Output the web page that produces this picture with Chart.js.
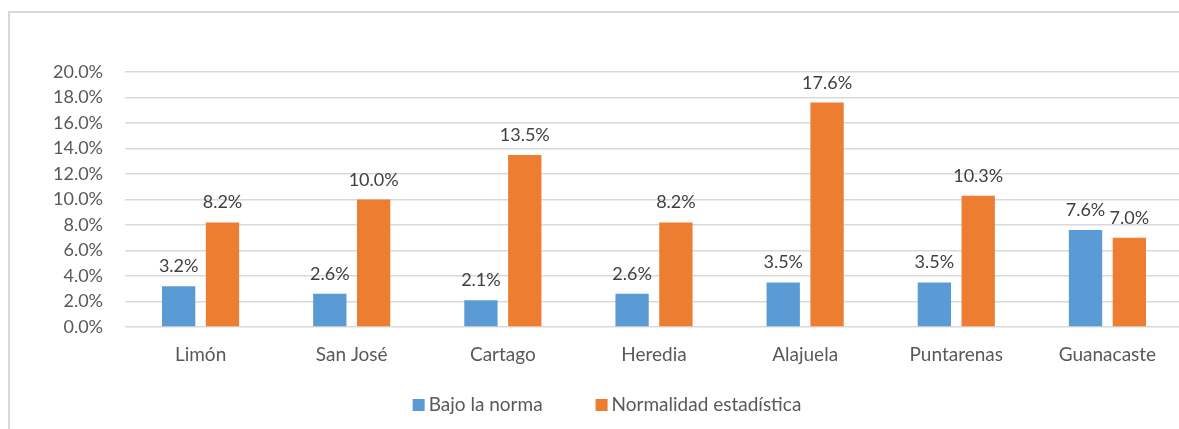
<!DOCTYPE html>
<html>
<head>
<meta charset="utf-8">
<script src="https://cdn.jsdelivr.net/npm/chart.js@4/dist/chart.umd.min.js"></script>
<style>
  html, body { margin: 0; padding: 0; background: #fff; overflow: hidden; }
  #wrap { position: absolute; left: 0; top: 0; width: 1190px; height: 429px; }
</style>
</head>
<body>
<div id="wrap"><canvas id="chart"></canvas></div>
<script>
// chart data
const provincias = ['Limón', 'San José', 'Cartago', 'Heredia', 'Alajuela', 'Puntarenas', 'Guanacaste'];
const bajoNorma = [3.2, 2.6, 2.1, 2.6, 3.5, 3.5, 7.6];
const normalidad = [8.2, 10.0, 13.5, 8.2, 17.6, 10.3, 7.0];
const yTicks = [0, 2, 4, 6, 8, 10, 12, 14, 16, 18, 20];

const FONT = 'Lato';

// frame + white background
const framePlugin = {
    id: 'frame',
    beforeDraw(chart) {
        const ctx = chart.ctx;
        ctx.save();
        ctx.fillStyle = '#fff';
        ctx.fillRect(0, 0, chart.width, chart.height);
        ctx.strokeStyle = '#d9d9d9';
        ctx.lineWidth = 2;
        ctx.beginPath();
        ctx.moveTo(9, chart.height);
        ctx.lineTo(9, 12);
        ctx.lineTo(chart.width, 12);
        ctx.stroke();
        ctx.restore();
    }
};

// value labels above bars
const valueLabels = {
    id: 'valueLabels',
    afterDatasetsDraw(chart) {
        const ctx = chart.ctx;
        ctx.save();
        ctx.font = '18px ' + FONT;
        ctx.fillStyle = '#404040';
        ctx.textAlign = 'center';
        ctx.textBaseline = 'alphabetic';
        chart.data.datasets.forEach((ds, i) => {
            chart.getDatasetMeta(i).data.forEach((bar, j) => {
                ctx.fillText(ds.data[j].toFixed(1) + '%', bar.x, bar.y - 14);
            });
        });
        ctx.restore();
    }
};

// legend drawn by hand (tight box/text gap like Excel)
const bottomLegend = {
    id: 'bottomLegend',
    afterDraw(chart) {
        const ctx = chart.ctx;
        ctx.save();
        ctx.font = '19px ' + FONT;
        ctx.textBaseline = 'middle';
        ctx.textAlign = 'left';
        const items = chart.data.datasets;
        const box = 12, gap = 4, itemGap = 53;
        let total = 0;
        items.forEach((ds, i) => {
            total += box + gap + ctx.measureText(ds.label).width + (i ? itemGap : 0);
        });
        let x = 607 - total / 2;
        const y = 405;
        items.forEach(ds => {
            ctx.fillStyle = ds.backgroundColor;
            ctx.fillRect(x, y - box / 2, box, box);
            x += box + gap;
            ctx.fillStyle = '#595959';
            ctx.fillText(ds.label, x, y);
            x += ctx.measureText(ds.label).width + itemGap;
        });
        ctx.restore();
    }
};

new Chart(document.getElementById('chart'), {
    type: 'bar',
    data: {
        labels: provincias,
        datasets: [{
            label: 'Bajo la norma',
            data: bajoNorma,
            backgroundColor: '#5b9bd5',
            categoryPercentage: 0.58,
            barPercentage: 0.76
        }, {
            label: 'Normalidad estadística',
            data: normalidad,
            backgroundColor: '#ed7d31',
            categoryPercentage: 0.58,
            barPercentage: 0.76
        }]
    },
    options: {
        responsive: true,
        maintainAspectRatio: false,
        animation: false,
        layout: { padding: { top: 72, right: 7, left: 0, bottom: 49 } },
        plugins: {
            legend: { display: false },
            tooltip: { enabled: false }
        },
        scales: {
            y: {
                min: 0,
                max: 20,
                afterBuildTicks(scale) { scale.ticks = yTicks.map(v => ({ value: v })); },
                afterFit(scale) { scale.width = 125; },
                grid: { color: '#d9d9d9', lineWidth: 1.5, drawTicks: false },
                border: { display: false },
                ticks: {
                    color: '#595959',
                    padding: 22,
                    font: { size: 18, family: FONT },
                    callback: v => v.toFixed(1) + '%'
                }
            },
            x: {
                afterFit(scale) { scale.height = 53; },
                grid: { display: false, drawTicks: false },
                border: { display: false },
                ticks: {
                    color: '#595959',
                    padding: 16,
                    font: { size: 19, family: FONT }
                }
            }
        }
    },
    plugins: [framePlugin, valueLabels, bottomLegend]
});
</script>
</body>
</html>
